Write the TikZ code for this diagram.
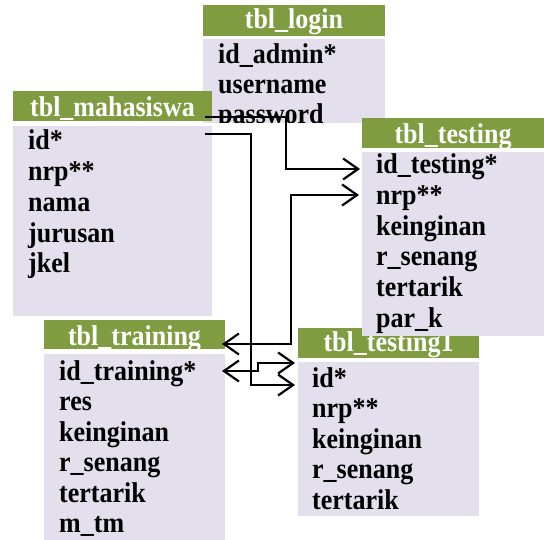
\documentclass[tikz,border=0pt]{standalone}
\usepackage{fontspec}
\setmainfont{Liberation Serif}
\usetikzlibrary{arrows.meta}
\definecolor{hdrc}{RGB}{127,156,64}
\definecolor{bodyc}{RGB}{228,223,236}
\newcommand\rowtxt[1]{\scalebox{1}[1.1]{#1}}
\tikzset{
  hdrbox/.style={fill=hdrc, draw=none, inner sep=0pt, outer sep=0pt, anchor=north west},
  bodybox/.style={fill=bodyc, draw=none, inner sep=0pt, outer sep=0pt, anchor=north west},
  rowt/.style={anchor=base west, inner sep=0pt, font=\fontsize{26}{30}\selectfont\bfseries},
  hdrt/.style={anchor=base, inner sep=0pt, text=white, font=\fontsize{26}{30}\selectfont\bfseries},
  conn/.style={line width=2.2pt, draw=black},
  tip/.style={-{Straight Barb[length=15pt,width=21pt]}},
  tips/.style={{Straight Barb[length=15pt,width=21pt]}-{Straight Barb[length=15pt,width=21pt]}}
}
\begin{document}
\begin{tikzpicture}[x=1pt,y=-1pt]
\useasboundingbox (0,0) rectangle (544,540);
% tbl_login
\node[hdrbox, minimum width=182pt, minimum height=31pt] (loginH) at (203,5) {};
\node[bodybox, minimum width=182pt, minimum height=84pt] (loginB) at (203,39) {};
\node[hdrt] (loginT) at (294,29) {\rowtxt{tbl\_login}};
\node[rowt] (login1) at (218,64) {\rowtxt{id\_admin*}};
\node[rowt] (login2) at (218,94) {\rowtxt{username}};
\begin{scope}
\clip (203,39) rectangle (385,123);
\node[rowt] (login3) at (218,124) {\rowtxt{password}};
\end{scope}
% tbl_mahasiswa
\node[hdrbox, minimum width=199pt, minimum height=30pt] (mahaH) at (13,91) {};
\node[bodybox, minimum width=199pt, minimum height=190pt] (mahaB) at (13,126) {};
\node[hdrt] (mahaT) at (112.5,117) {\rowtxt{tbl\_mahasiswa}};
\node[rowt] (maha1) at (28,150) {\rowtxt{id*}};
\node[rowt] (maha2) at (28,181) {\rowtxt{nrp**}};
\node[rowt] (maha3) at (28,212) {\rowtxt{nama}};
\node[rowt] (maha4) at (28,243) {\rowtxt{jurusan}};
\node[rowt] (maha5) at (28,273) {\rowtxt{jkel}};
% tbl_training
\node[hdrbox, minimum width=181pt, minimum height=29pt] (trainH) at (44,320) {};
\node[bodybox, minimum width=181pt, minimum height=186pt] (trainB) at (44,354) {};
\node[hdrt] (trainT) at (134.5,345) {\rowtxt{tbl\_training}};
\node[rowt] (train1) at (59,380) {\rowtxt{id\_training*}};
\node[rowt] (train2) at (59,410) {\rowtxt{res}};
\node[rowt] (train3) at (59,441) {\rowtxt{keinginan}};
\node[rowt] (train4) at (59,471) {\rowtxt{r\_senang}};
\node[rowt] (train5) at (59,502) {\rowtxt{tertarik}};
\node[rowt] (train6) at (59,532) {\rowtxt{m\_tm}};
% tbl_testing1
\node[hdrbox, minimum width=181pt, minimum height=30pt] (test1H) at (298,328) {};
\node[bodybox, minimum width=181pt, minimum height=154pt] (test1B) at (298,362) {};
\node[hdrt] (test1T) at (388.5,352) {\rowtxt{tbl\_testing1}};
\node[rowt] (test11) at (312,387) {\rowtxt{id*}};
\node[rowt] (test12) at (312,417) {\rowtxt{nrp**}};
\node[rowt] (test13) at (312,448) {\rowtxt{keinginan}};
\node[rowt] (test14) at (312,478) {\rowtxt{r\_senang}};
\node[rowt] (test15) at (312,509) {\rowtxt{tertarik}};
% tbl_testing
\node[hdrbox, minimum width=182pt, minimum height=30pt] (testH) at (362,118) {};
\node[bodybox, minimum width=182pt, minimum height=184pt] (testB) at (362,152) {};
\node[hdrt] (testT) at (453,144) {\rowtxt{tbl\_testing}};
\node[rowt] (test1) at (376,174) {\rowtxt{id\_testing*}};
\node[rowt] (test2) at (376,205) {\rowtxt{nrp**}};
\node[rowt] (test3) at (376,236) {\rowtxt{keinginan}};
\node[rowt] (test4) at (376,266) {\rowtxt{r\_senang}};
\node[rowt] (test5) at (376,297) {\rowtxt{tertarik}};
\node[rowt] (test6) at (376,328) {\rowtxt{par\_k}};
% connector end points
\coordinate (cA1) at (205,117);
\coordinate (cA2) at (360,169);
\coordinate (cB1) at (205,134);
\coordinate (cB2) at (295,385);
\coordinate (cC1) at (222,344);
\coordinate (cC2) at (359,195);
\coordinate (cD1) at (222,371);
\coordinate (cD2) at (295,363);
% connectors
\draw[conn, tip] (cA1) -| (286,169) -- (cA2);
\draw[conn, tip] (cB1) -| (251,385) -- (cB2);
\draw[conn, tips] (cC1) -| (291,195) -- (cC2);
\draw[conn, tips] (cD1) -| (258,363) -- (cD2);
\end{tikzpicture}
\end{document}
